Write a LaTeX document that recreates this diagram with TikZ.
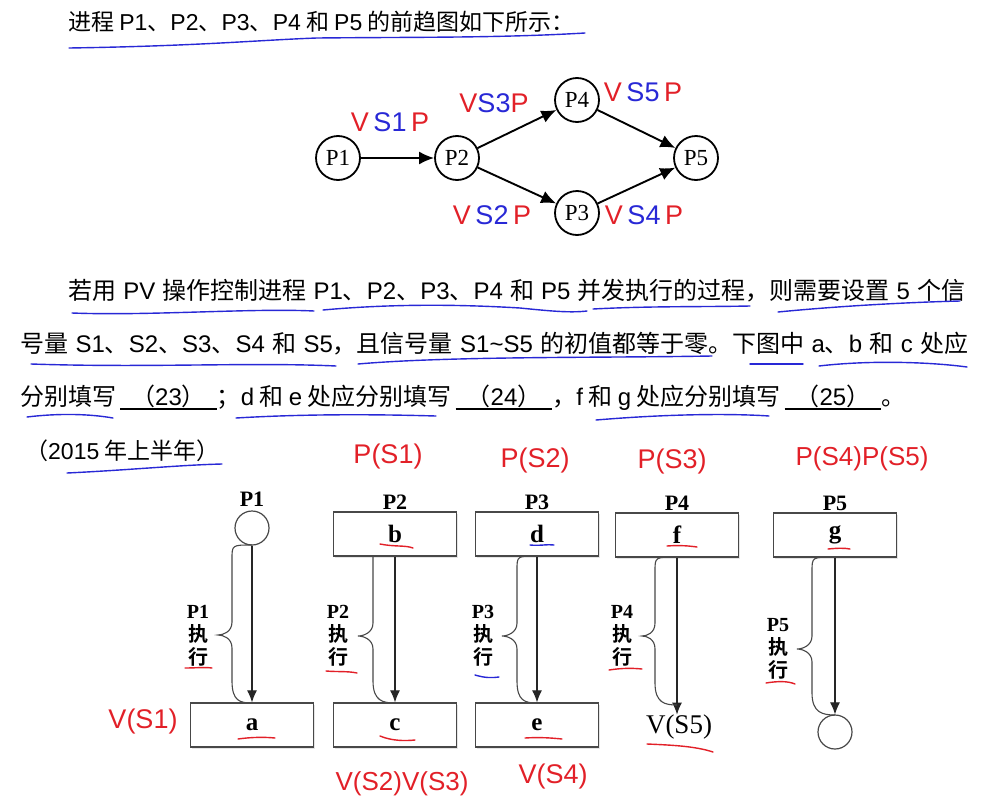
\documentclass[tikz,border=0pt]{standalone}
\usepackage{fontspec}
\setmainfont{Liberation Serif}
\newfontfamily\cjk{Noto Sans CJK SC}[BoldFont={Noto Sans CJK SC Bold}]
\newfontfamily\hand{Liberation Sans}
\usetikzlibrary{arrows.meta,positioning,shadows}
\definecolor{hred}{RGB}{226,32,40}
\definecolor{hblue}{RGB}{40,40,214}
\definecolor{boxline}{RGB}{72,72,72}
% latin words inside the chinese text
\newcommand\lat[1]{{\hand #1}}
% answer blank with a thick rule under it
\newcommand\answerblank[1]{\setbox0\hbox{\kern11pt#1\kern11pt}\rlap{\vrule height -2.5pt depth 4pt width \wd0}\box0}
% brace beside an arrow: top x, spine x, tip x, bottom x, top y, mid y, bottom y
\newcommand\execbrace[7]{\draw[brace] (#1,#5) .. controls (#2,#5) .. (#2,#5+14) -- (#2,#6-13)
  .. controls (#2,#6-3) and (#3+5,#6) .. (#3,#6) .. controls (#3+5,#6) and (#2,#6+3) .. (#2,#6+13)
  -- (#2,#7-22) .. controls (#2,#7-2) and (#4-12,#7) .. (#4,#7);}

\begin{document}
\begin{tikzpicture}[x=1pt,y=-1pt,
txt/.style={anchor=west, inner sep=0pt, font=\cjk\fontsize{24}{24}\selectfont},
pnode/.style={circle, draw, line width=1.8pt, minimum size=44pt, inner sep=0pt, font=\fontsize{23}{23}\selectfont},
parrow/.style={-{Latex[length=15pt,width=13pt]}, line width=1.9pt},
cbox/.style={draw=boxline, line width=1.3pt, fill=white, minimum width=123pt, minimum height=44pt,
  drop shadow={shadow xshift=1.5pt, shadow yshift=-1.5pt, opacity=0.2}, font=\bfseries\fontsize{25}{25}\selectfont},
dot/.style={circle, draw=boxline, line width=1.2pt, fill=white, minimum size=34pt, inner sep=0pt},
plab/.style={font=\bfseries\fontsize{22}{22}\selectfont},
exec/.style={align=center, inner sep=0pt, font=\bfseries\fontsize{20}{23}\selectfont},
darrow/.style={-{Latex[length=12pt,width=10pt]}, line width=1.1pt, draw=black!85},
brace/.style={draw=boxline, line width=1.1pt},
hw/.style={text=hred, inner sep=0pt, font=\hand\fontsize{27}{27}\selectfont},
hline/.style={hred, line width=1.4pt, line cap=round},
bline/.style={hblue, line width=1.4pt, line cap=round}
]
\useasboundingbox[fill=white] (0,0) rectangle (984,811);

% question text
\node[txt, font=\cjk\fontsize{23}{23}\selectfont] (intro) at (68,22) {进程 \lat{P1}、\lat{P2}、\lat{P3}、\lat{P4} 和 \lat{P5} 的前趋图如下所示：};
\node[txt] (para1) at (68,291) {\makebox[897pt][s]{若用 \lat{PV} 操作控制进程 \lat{P1}、\lat{P2}、\lat{P3}、\lat{P4} 和 \lat{P5} 并发执行的过程，则需要设置 \lat{5} 个信}};
\node[txt] (para2) at (20,344) {\makebox[948pt][s]{号量 \lat{S1}、\lat{S2}、\lat{S3}、\lat{S4} 和 \lat{S5}，且信号量 \lat{S1\textasciitilde S5} 的初值都等于零。下图中 \lat{a}、\lat{b} 和 \lat{c} 处应}};
\node[txt] (para3) at (20,398) {分别填写\,\answerblank{（\lat{23}）}；\lat{d} 和 \lat{e} 处应分别填写\,\answerblank{（\lat{24}）}，\lat{f} 和 \lat{g} 处应分别填写\,\answerblank{（\lat{25}）}。};
\node[txt, font=\cjk\fontsize{23}{23}\selectfont] (year) at (25,451) {（\lat{2015} 年上半年）};

% precedence graph
\node[pnode] (gp1) at (338,158) {P1};
\node[pnode] (gp2) at (457,158) {P2};
\node[pnode] (gp4) at (577,100) {P4};
\node[pnode] (gp3) at (577,213) {P3};
\node[pnode] (gp5) at (696,158) {P5};
\draw[parrow] (gp1) -- (gp2);
\draw[parrow] (gp2) -- (gp4);
\draw[parrow] (gp2) -- (gp3);
\draw[parrow] (gp4) -- (gp5);
\draw[parrow] (gp3) -- (gp5);

% handwritten semaphores on the edges
\node[hw] (sem1) at (390,122) {V\,\textcolor{hblue}{S1}\,P};
\node[hw] (sem3) at (494,103) {V\textcolor{hblue}{S3}P};
\node[hw] (sem5) at (643,92) {V\,\textcolor{hblue}{S5}\,P};
\node[hw] (sem2) at (492,215) {V\,\textcolor{hblue}{S2}\,P};
\node[hw] (sem4) at (644,215) {V\,\textcolor{hblue}{S4}\,P};

% process diagram
\node[dot] (start1) at (252,528) {};
\node[plab, above=0pt of start1] (lab1) {P1};
\node[cbox] (boxa) at (252,725) {a};
\node[cbox] (boxb) at (395,534) {b};
\node[plab, above=-2pt of boxb] (lab2) {P2};
\node[cbox] (boxc) at (395,725) {c};
\node[cbox] (boxd) at (537,534) {d};
\node[plab, above=-2pt of boxd] (lab3) {P3};
\node[cbox] (boxe) at (537,725) {e};
\node[cbox] (boxf) at (677,535) {f};
\node[plab, above=-2pt of boxf] (lab4) {P4};
\node[inner sep=0pt, font=\fontsize{27}{27}\selectfont] (vsfive) at (679,727) {V(S5)};
\node[cbox] (boxg) at (835,535) {g};
\node[plab, above=-2pt of boxg] (lab5) {P5};
\node[dot] (end5) at (835,732) {};

\draw[darrow] (start1) -- (boxa);
\draw[darrow] (boxb) -- (boxc);
\draw[darrow] (boxd) -- (boxe);
\draw[darrow] (boxf.south) -- (vsfive.north -| boxf.south);
\draw[darrow] (boxg) -- (end5);

\execbrace{252}{232}{218}{252}{545}{635}{703}
\execbrace{373}{373}{358}{395}{556}{636}{703}
\execbrace{537}{517}{502}{537}{556}{636}{703}
\execbrace{677}{655}{642}{677}{557}{636}{705}
\execbrace{835}{812}{797}{835}{557}{649}{715}

\node[exec] (ex1) at (198,636) {P1\\{\cjk 执}\\{\cjk 行}};
\node[exec] (ex2) at (338,636) {P2\\{\cjk 执}\\{\cjk 行}};
\node[exec] (ex3) at (483,636) {P3\\{\cjk 执}\\{\cjk 行}};
\node[exec] (ex4) at (622,636) {P4\\{\cjk 执}\\{\cjk 行}};
\node[exec] (ex5) at (778,649) {P5\\{\cjk 执}\\{\cjk 行}};

% handwritten answers
\node[hw] (ans1) at (388,457) {P(S1)};
\node[hw] (ans2) at (535,461) {P(S2)};
\node[hw] (ans3) at (672,462) {P(S3)};
\node[hw, font=\hand\fontsize{26}{26}\selectfont] (ans5) at (862,459) {P(S4)P(S5)};
\node[hw] (ans6) at (143,722) {V(S1)};
\node[hw, font=\hand\fontsize{26}{26}\selectfont] (ans7) at (402,784) {V(S2)V(S3)};
\node[hw] (ans8) at (553,776) {V(S4)};

% blue underlines in the text
\draw[bline] (69,48) .. controls (200,46) and (260,40) .. (317,38) .. controls (420,37) and (500,38) .. (585,33);
\draw[bline] (72,313) .. controls (150,316) and (250,308) .. (314,311);
\draw[bline] (323,310) .. controls (400,303) and (470,305) .. (520,308) .. controls (550,311) and (570,313) .. (587,311);
\draw[bline] (593,309) .. controls (650,306) and (700,307) .. (750,306);
\draw[bline] (778,312) .. controls (850,305) and (920,302) .. (960,301);
\draw[bline] (31,364) .. controls (150,368) and (250,362) .. (336,366);
\draw[bline] (358,364) .. controls (450,356) and (600,358) .. (712,356);
\draw[bline] (750,364) -- (803,364);
\draw[bline] (819,366) .. controls (870,360) and (930,362) .. (967,367);
\draw[bline] (27,417) .. controls (60,413) and (90,414) .. (113,418);
\draw[bline] (236,418) .. controls (320,413) and (400,415) .. (436,416);
\draw[bline] (596,420) .. controls (680,413) and (740,414) .. (769,416);
\draw[bline] (67,473) .. controls (130,470) and (180,465) .. (222,464);

% red and blue underlines in the diagram
\draw[hline] (380,544) .. controls (395,547) and (405,545) .. (413,548);
\draw[hline] (238,739) .. controls (252,737) and (265,737) .. (275,738);
\draw[hline] (380,736) .. controls (392,741) and (405,741) .. (415,740);
\draw[bline] (530,545) .. controls (540,546) and (548,544) .. (554,545);
\draw[hline] (525,738) .. controls (540,737) and (552,738) .. (562,739);
\draw[hline] (667,546) .. controls (680,545) and (690,546) .. (697,547);
\draw[hline] (828,549) .. controls (838,548) and (845,548) .. (850,549);
\draw[hline] (647,744) .. controls (670,745) and (695,746) .. (713,752);
\draw[hline] (185,668) .. controls (195,668) and (205,667) .. (212,668);
\draw[hline] (326,671) .. controls (338,672) and (348,671) .. (357,673);
\draw[bline] (475,675) .. controls (485,678) and (492,678) .. (499,677);
\draw[hline] (609,670) .. controls (622,668) and (632,668) .. (642,669);
\draw[hline] (766,683) .. controls (778,681) and (788,681) .. (795,684);
\end{tikzpicture}
\end{document}
